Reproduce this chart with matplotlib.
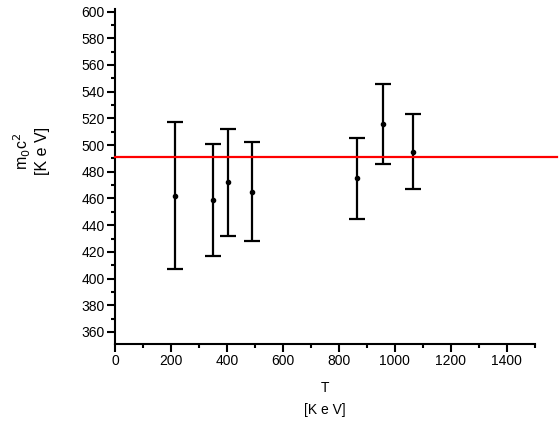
import matplotlib
matplotlib.use("Agg")
import matplotlib.pyplot as plt
from matplotlib.ticker import MultipleLocator

plt.rcParams['font.family'] = ['Liberation Sans', 'DejaVu Sans']

# measured points: kinetic energy T and m0c^2 with symmetric errors
T = [213, 351, 404, 488, 865, 957, 1064]
m0c2 = [462, 459, 472, 465, 475, 516, 495]
err = [55, 42, 40, 37, 30, 30, 28]
ref_value = 491

fig = plt.figure(figsize=(5.6, 4.25), dpi=100)
ax = fig.add_axes([0.2054, 0.1906, 0.7496, 0.7884])

ax.errorbar(T, m0c2, yerr=err, fmt='o', color='black', markersize=3,
            elinewidth=1.6, capsize=5.5, capthick=1.6)
ax.plot([0, 1580], [ref_value, ref_value], color='red', lw=1.6, clip_on=False, zorder=3)

ax.set_xlim(0, 1500)
ax.set_ylim(351, 602)
ax.xaxis.set_major_locator(MultipleLocator(200))
ax.xaxis.set_minor_locator(MultipleLocator(100))
ax.yaxis.set_major_locator(MultipleLocator(20))
ax.yaxis.set_minor_locator(MultipleLocator(10))

for s in ['top', 'right']:
    ax.spines[s].set_visible(False)
for s in ['left', 'bottom']:
    ax.spines[s].set_linewidth(1.5)
ax.tick_params(which='major', direction='out', length=5.5, width=1.5, labelsize=10, pad=2)
ax.tick_params(which='minor', direction='out', length=3, width=1.5)

ax.set_xlabel('T\n[K e V]', fontsize=10, linespacing=1.75, labelpad=9)
ax.set_ylabel('m$_0$c$^2$\n[K e V]', fontsize=11.5, linespacing=1.15)
ax.yaxis.set_label_coords(-0.155, 0.575)

fig.savefig('out.png', dpi=100)
